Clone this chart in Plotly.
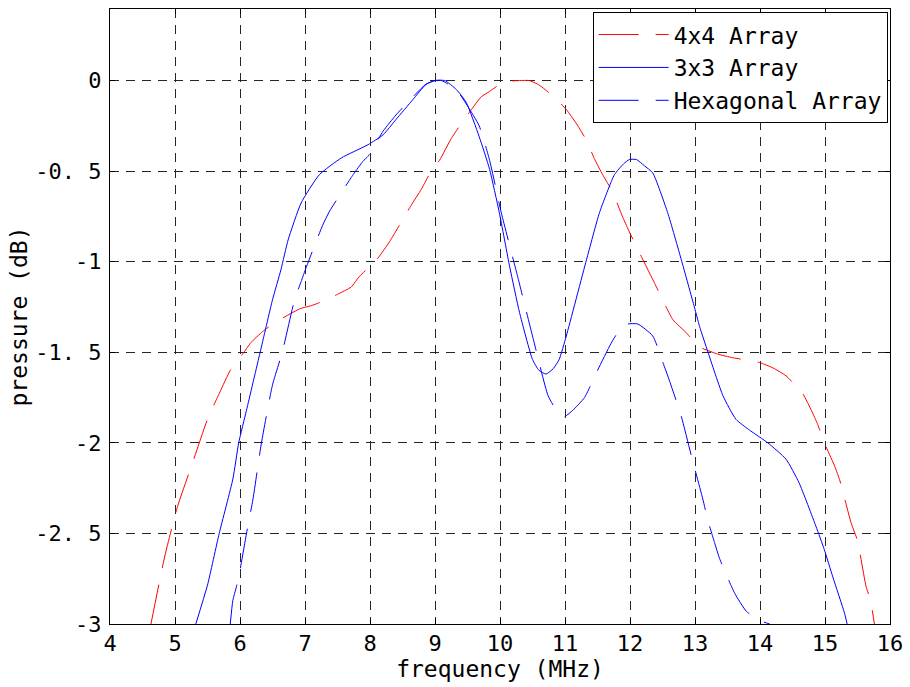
import plotly.graph_objects as go

# 4x4 Array (red, dashed)
x_4x4 = [4.63, 4.84, 5.04, 5.27, 5.50, 5.69, 5.85, 6.04, 6.17, 6.35, 6.56, 6.71, 6.92, 7.12, 7.33, 7.50,
         7.71, 7.84, 8.10, 8.30, 8.45, 8.63, 8.79, 8.94, 9.07, 9.25, 9.40, 9.56, 9.71, 9.84, 10.0, 10.1,
         10.3, 10.45, 10.58, 10.66, 10.86, 11.02, 11.18, 11.33, 11.45, 11.58, 11.74, 11.86, 11.97, 12.2,
         12.38, 12.66, 12.86, 13.07, 13.35, 13.58, 13.99, 14.22, 14.40, 14.66, 14.79, 14.89, 14.99, 15.15,
         15.23, 15.40, 15.50, 15.63, 15.70, 15.76]
y_4x4 = [-3.0, -2.63, -2.35, -2.11, -1.87, -1.72, -1.60, -1.51, -1.446, -1.385, -1.33, -1.30, -1.26, -1.24,
         -1.21, -1.18, -1.14, -1.08, -0.99, -0.89, -0.80, -0.69, -0.60, -0.50, -0.44, -0.32, -0.24, -0.16,
         -0.09, -0.06, -0.02, -0.005, 0.0, 0.0, -0.02, -0.04, -0.10, -0.16, -0.24, -0.33, -0.43, -0.52,
         -0.62, -0.73, -0.82, -0.99, -1.12, -1.32, -1.39, -1.47, -1.51, -1.53, -1.556, -1.59, -1.63, -1.73,
         -1.82, -1.90, -2.0, -2.13, -2.21, -2.44, -2.54, -2.79, -2.87, -3.0]

# 3x3 Array (blue, solid)
x_3x3 = [5.32, 5.50, 5.68, 5.89, 5.98, 6.10, 6.31, 6.50, 6.63, 6.74, 6.94, 7.22, 7.56, 7.97, 8.20, 8.40,
         8.66, 8.86, 9.0, 9.15, 9.33, 9.48, 9.68, 9.84, 9.99, 10.15, 10.30, 10.50, 10.60, 10.71, 10.82,
         10.91, 11.02, 11.33, 11.53, 11.76, 11.90, 11.99, 12.10, 12.22, 12.35, 12.58, 12.79, 12.99, 13.07,
         13.20, 13.43, 13.63, 13.84, 14.12, 14.40, 14.60, 14.86, 14.99, 15.12, 15.30, 15.34]
y_3x3 = [-3.0, -2.785, -2.5, -2.2, -2.0, -1.82, -1.5, -1.21, -1.044, -0.88, -0.676, -0.52, -0.427, -0.354,
         -0.30, -0.215, -0.105, -0.022, 0.0, 0.0, -0.05, -0.12, -0.31, -0.49, -0.73, -1.03, -1.28, -1.54,
         -1.60, -1.62, -1.59, -1.54, -1.41, -0.99, -0.73, -0.52, -0.46, -0.436, -0.436, -0.47, -0.51, -0.73,
         -0.99, -1.25, -1.357, -1.50, -1.74, -1.87, -1.93, -2.0, -2.09, -2.22, -2.46, -2.59, -2.74, -2.94,
         -3.0]

# Hexagonal Array (blue, dashed)
x_hex = [5.85, 5.89, 5.97, 6.10, 6.20, 6.33, 6.50, 6.65, 6.84, 6.94, 7.02, 7.27, 7.38, 7.74, 7.89, 7.97,
         8.20, 8.40, 8.66, 8.86, 9.0, 9.1, 9.2, 9.35, 9.5, 9.68, 9.84, 10.02, 10.27, 10.50, 10.74, 10.87,
         10.99, 11.12, 11.30, 11.50, 11.71, 11.84, 11.97, 12.12, 12.35, 12.53, 12.61, 12.79, 12.95, 13.12,
         13.20, 13.30, 13.38, 13.61, 13.79, 13.99, 14.15]
y_hex = [-3.0, -2.87, -2.76, -2.5, -2.31, -2.0, -1.68, -1.5, -1.21, -1.11, -1.03, -0.80, -0.72, -0.52,
         -0.446, -0.418, -0.28, -0.19, -0.09, -0.02, 0.0, 0.0, -0.02, -0.06, -0.14, -0.25, -0.44, -0.73,
         -1.08, -1.41, -1.74, -1.82, -1.855, -1.82, -1.75, -1.60, -1.45, -1.376, -1.344, -1.344, -1.41,
         -1.58, -1.66, -1.855, -2.08, -2.31, -2.43, -2.55, -2.64, -2.83, -2.93, -2.98, -3.0]

x_ticks = [4, 5, 6, 7, 8, 9, 10, 11, 12, 13, 14, 15, 16]
y_ticks = [-3, -2.5, -2, -1.5, -1, -0.5, 0]
y_ticktext = ["-3", "-2. 5", "-2", "-1. 5", "-1", "-0. 5", "0"]

FONT = "DejaVu Sans Mono"

fig = go.Figure()
fig.add_trace(go.Scatter(x=x_4x4, y=y_4x4, mode="lines", name="4x4 Array",
                         line=dict(color="#ff0000", width=1, dash="40px,17px", shape="spline", smoothing=0.5)))
fig.add_trace(go.Scatter(x=x_3x3, y=y_3x3, mode="lines", name="3x3 Array",
                         line=dict(color="#0000ff", width=1, shape="spline", smoothing=0.5)))
fig.add_trace(go.Scatter(x=x_hex, y=y_hex, mode="lines", name="Hexagonal Array",
                         line=dict(color="#0000ff", width=1, dash="40px,17px", shape="spline", smoothing=0.5)))

axis_common = dict(
    showline=True, linecolor="black", linewidth=1, mirror="ticks",
    ticks="inside", ticklen=5, tickcolor="black", tickwidth=1,
    showgrid=True, gridcolor="#262626", gridwidth=1, griddash="9px,7px",
    zeroline=False, tickfont=dict(family=FONT, size=22, color="black"),
    automargin=False,
)

fig.update_xaxes(range=[4, 16], tickvals=x_ticks, ticktext=[str(t) for t in x_ticks],
                 title=dict(text="frequency (MHz)", font=dict(family=FONT, size=23, color="black"), standoff=1),
                 ticklabelstandoff=0, **axis_common)
fig.update_yaxes(range=[-3, 0.395], tickvals=y_ticks, ticktext=y_ticktext,
                 title=dict(text="pressure (dB)", font=dict(family=FONT, size=23, color="black"), standoff=1),
                 ticklabelstandoff=3, **axis_common)

fig.update_layout(
    width=910, height=687,
    margin=dict(l=110, r=20, t=9, b=63),
    paper_bgcolor="white", plot_bgcolor="white",
    font=dict(family=FONT, size=22, color="black"),
    showlegend=True,
    legend=dict(x=0.997, y=0.995, xanchor="right", yanchor="top",
                bgcolor="white", bordercolor="black", borderwidth=1,
                font=dict(family=FONT, size=23, color="black"),
                itemwidth=70),
)

fig.write_html("out.html")
